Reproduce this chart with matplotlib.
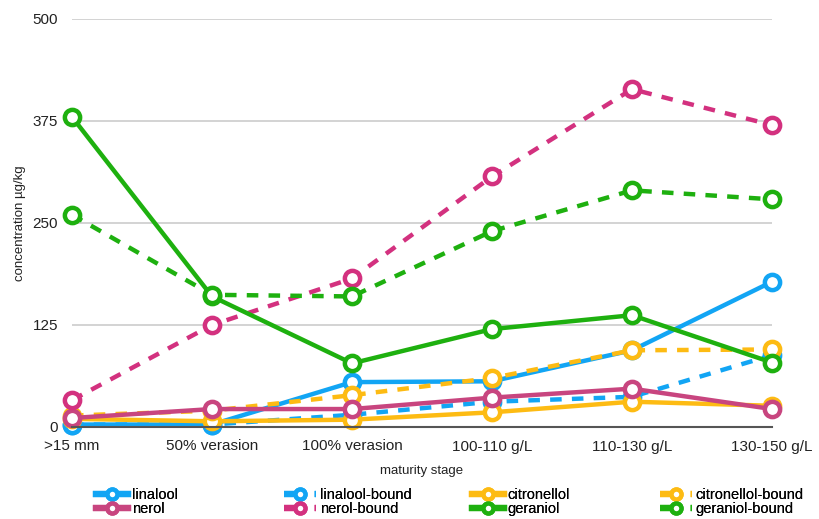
import matplotlib
matplotlib.use("Agg")
import matplotlib.pyplot as plt

plt.rcParams['font.family'] = ['Liberation Sans', 'DejaVu Sans']

stages = [">15 mm", "50% verasion", "100% verasion", "100-110 g/L", "110-130 g/L", "130-150 g/L"]

linalool = [3, 3, 55, 56, 94, 178]
linalool_bound = [3, 3, 15, 31, 37, 88]
citronellol = [10, 7, 9, 18, 31, 26]
citronellol_bound = [14, 20, 39, 60, 94, 95]
nerol = [11, 22, 22, 36, 47, 22]
nerol_bound = [33, 125, 182, 307, 414, 370]
geraniol = [380, 160, 78, 120, 137, 79]
geraniol_bound = [260, 162, 160, 240, 290, 279]

yticks = [0, 125, 250, 375, 500]

BLUE = "#12A5F4"
PINK = "#D3317F"
PINK_SOLID = "#C8457F"
ORANGE = "#FDBB13"
GREEN = "#1EB00F"

series = [
    ("linalool", linalool, BLUE, "-"),
    ("linalool-bound", linalool_bound, BLUE, "--"),
    ("citronellol", citronellol, ORANGE, "-"),
    ("citronellol-bound", citronellol_bound, ORANGE, "--"),
    ("nerol", nerol, PINK_SOLID, "-"),
    ("nerol-bound", nerol_bound, PINK, "--"),
    ("geraniol", geraniol, GREEN, "-"),
    ("geraniol-bound", geraniol_bound, GREEN, "--"),
]

fig = plt.figure(figsize=(8.2, 5.19), dpi=100)
ax = fig.add_axes([72 / 820, 1 - 427 / 519, 700 / 820, 408 / 519])

x = list(range(len(stages)))
handles = {}
for name, vals, color, ls in series:
    kw = dict(color=color, lw=3.2, marker="o", markersize=11,
              markerfacecolor="white", markeredgecolor=color,
              markeredgewidth=3.2, clip_on=False, label=name)
    if ls == "--":
        kw["linestyle"] = (0, (2.6, 2.3))
    (ln,) = ax.plot(x, vals, **kw)
    handles[name] = ln

ax.set_xlim(0, len(stages) - 1)
ax.set_ylim(0, 500)
ax.set_yticks(yticks)
ax.set_yticklabels([str(v) for v in yticks])
ax.set_xticks(x)
ax.set_xticklabels(stages)
ax.yaxis.grid(True, color="#cccccc", lw=1.2)
ax.set_axisbelow(True)
for s in ["top", "right", "left"]:
    ax.spines[s].set_visible(False)
ax.spines["bottom"].set_color("#555555")
ax.spines["bottom"].set_linewidth(1.5)
ax.tick_params(axis="both", length=0, labelsize=11, colors="#222222")
ax.tick_params(axis="x", pad=9)
ax.tick_params(axis="y", pad=10)

ax.set_xlabel("maturity stage", fontsize=9.5, labelpad=8, color="#222222")
ax.set_ylabel("concentration µg/kg", fontsize=9.5, labelpad=5, color="#222222")

# Legend: four columns of two entries each
columns = [["linalool", "nerol"], ["linalool-bound", "nerol-bound"],
           ["citronellol", "geraniol"], ["citronellol-bound", "geraniol-bound"]]
col_x = [96, 284, 472, 660]
for names, cx in zip(columns, col_x):
    leg = fig.legend([handles[n] for n in names], names,
                     loc="upper left", bbox_to_anchor=(cx / 820, 1 - 488 / 519),
                     frameon=False, fontsize=10.5, handlelength=2.2,
                     handletextpad=0.25, labelspacing=0.02, borderpad=0,
                     borderaxespad=0, markerscale=0.65)
    for line in leg.get_lines():
        line.set_linewidth(4.5)
    fig.add_artist(leg)

fig.savefig("out.png", dpi=100)
